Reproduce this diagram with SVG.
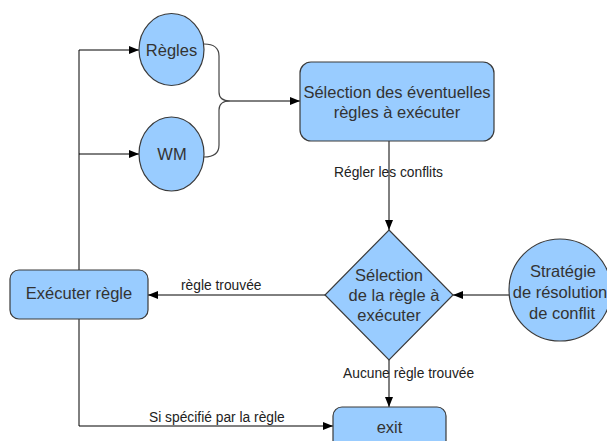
<svg xmlns="http://www.w3.org/2000/svg" width="607" height="441" viewBox="0 0 607 441">
  <defs>
    <marker id="arrow" viewBox="0 0 10 10" refX="10" refY="5" markerWidth="10" markerHeight="10" markerUnits="userSpaceOnUse" orient="auto">
      <path d="M0,1 L10,5 L0,9 Z" fill="#000"/>
    </marker>
  </defs>
  <style>
    .shape { fill: #99ccff; stroke: #3a3a3a; stroke-width: 1.2; }
    .node-text { font-family: "Liberation Sans", Arial, sans-serif; font-size: 16.5px; font-weight: normal; fill: #333; text-anchor: middle; }
    .edge { fill: none; stroke: #000; stroke-width: 1; }
    .edge-arrow { fill: none; stroke: #000; stroke-width: 1; marker-end: url(#arrow); }
    .brace { fill: none; stroke: #444; stroke-width: 1.2; }
    .label { font-family: "Liberation Sans", Arial, sans-serif; font-size: 13.8px; fill: #222; }
  </style>
  <rect width="607" height="441" fill="#fff"/>

  <!-- connectors -->
  <g id="connectors">
    <!-- loop back from "Exécuter règle" to the inputs -->
    <path class="edge" d="M79,270 V50"/>
    <path class="edge-arrow" d="M79,50 H139"/>
    <path class="edge-arrow" d="M79,154 H139"/>
    <!-- brace joining Règles and WM -->
    <path class="brace" d="M204,44 Q219,44 219,56 V92 Q219,101 230,101"/>
    <path class="brace" d="M204,157 Q219,157 219,145 V110 Q219,101 230,101"/>
    <path class="edge-arrow" d="M230,101 H300"/>
    <!-- selection box to decision -->
    <path class="edge-arrow" d="M389,141 V230"/>
    <text class="label" x="334" y="177">Régler les conflits</text>
    <!-- strategy to decision -->
    <path class="edge-arrow" d="M510,295 H453"/>
    <!-- decision to execute -->
    <path class="edge-arrow" d="M325,295 H148"/>
    <text class="label" x="181" y="290">règle trouvée</text>
    <!-- decision to exit -->
    <path class="edge-arrow" d="M389,360 V407"/>
    <text class="label" x="343" y="378">Aucune règle trouvée</text>
    <!-- execute to exit -->
    <path class="edge-arrow" d="M79,319 V426 H333"/>
    <text class="label" x="149" y="422">Si spécifié par la règle</text>
  </g>

  <g id="node-regles">
    <ellipse class="shape" cx="171.5" cy="49.5" rx="32.5" ry="36"/>
    <text class="node-text" x="171.5" y="56">Règles</text>
  </g>

  <g id="node-wm">
    <ellipse class="shape" cx="171.5" cy="154" rx="32.5" ry="37"/>
    <text class="node-text" x="172" y="160">WM</text>
  </g>

  <g id="node-selection">
    <rect class="shape" x="300" y="62" width="194" height="79" rx="11"/>
    <text class="node-text" x="397" y="98">Sélection des éventuelles</text>
    <text class="node-text" x="397" y="118">règles à exécuter</text>
  </g>

  <g id="node-decision">
    <polygon class="shape" points="389,230 453,295 389,360 325,295"/>
    <text class="node-text" x="389" y="281">Sélection</text>
    <text class="node-text" x="394" y="301">de la règle à</text>
    <text class="node-text" x="389" y="321">exécuter</text>
  </g>

  <g id="node-strategie">
    <circle class="shape" cx="560" cy="290" r="51"/>
    <text class="node-text" x="563" y="277">Stratégie</text>
    <text class="node-text" x="560" y="298">de résolution</text>
    <text class="node-text" x="562" y="319">de conflit</text>
  </g>

  <g id="node-executer">
    <rect class="shape" x="10" y="270" width="138" height="49" rx="9"/>
    <text class="node-text" x="79" y="299">Exécuter règle</text>
  </g>

  <g id="node-exit">
    <rect class="shape" x="333" y="407" width="113" height="45" rx="9"/>
    <text class="node-text" x="389.5" y="433">exit</text>
  </g>
</svg>
